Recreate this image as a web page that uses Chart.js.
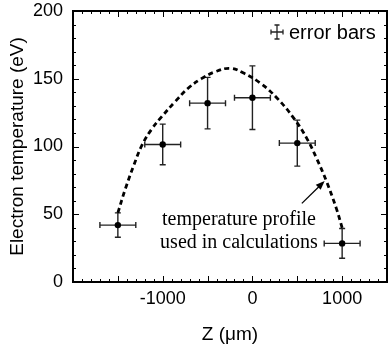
<!DOCTYPE html>
<html>
<head>
<meta charset="utf-8">
<script src="https://cdn.jsdelivr.net/npm/chart.js@4/dist/chart.umd.min.js"></script>
<style>
  html, body { margin: 0; padding: 0; background: #fff; }
  #chart { display: block; }
</style>
</head>
<body>
<canvas id="chart" width="391" height="347"></canvas>
<script>
// measured temperatures with error bars
const zPos = [-1500, -1000, -500, 0, 500, 1000];
const tempEV = [42, 101.5, 132, 136, 102.5, 28.5];
const zErr = [200, 200, 200, 200, 200, 200];
const tErr = [9, 15, 19, 23.5, 17, 11];

// dashed profile used in calculations
const profileZ = [-1500, -1415, -1323, -1231, -1121, -1011, -863, -717, -570, -422, -250, -92, 92, 276, 460, 606, 717, 827, 937, 1000];
const profileT = [51, 69, 86, 101, 113, 122, 133, 143, 150, 155, 157.7, 154, 146.6, 135.6, 121, 106, 91, 74, 54, 40];

const xTicks = [-1000, 0, 1000];
const yTicks = [0, 50, 100, 150, 200];

const sans = "'Liberation Sans', Arial, sans-serif";
const serif = "'Liberation Serif', 'Times New Roman', serif";

function seg(ctx, x0, y0, x1, y1) {
    ctx.moveTo(x0, y0);
    ctx.lineTo(x1, y1);
}

const extras = {
    id: 'extras',
    beforeDatasetsDraw(chart) {
        const ctx = chart.ctx;
        const xs = chart.scales.x, ys = chart.scales.y;
        ctx.save();
        ctx.strokeStyle = '#222';
        ctx.lineWidth = 1.4;
        ctx.beginPath();
        zPos.forEach((z, i) => {
            const px = xs.getPixelForValue(z), py = ys.getPixelForValue(tempEV[i]);
            const x0 = xs.getPixelForValue(z - zErr[i]), x1 = xs.getPixelForValue(z + zErr[i]);
            const y0 = ys.getPixelForValue(tempEV[i] + tErr[i]), y1 = ys.getPixelForValue(tempEV[i] - tErr[i]);
            seg(ctx, x0, py, x1, py);
            seg(ctx, x0, py - 3, x0, py + 3);
            seg(ctx, x1, py - 3, x1, py + 3);
            seg(ctx, px, y0, px, y1);
            seg(ctx, px - 3, y0, px + 3, y0);
            seg(ctx, px - 3, y1, px + 3, y1);
        });
        ctx.stroke();
        ctx.restore();
    },
    afterDraw(chart) {
        const ctx = chart.ctx;
        const xs = chart.scales.x, ys = chart.scales.y;
        const a = chart.chartArea;
        ctx.save();

        // frame
        ctx.strokeStyle = '#000';
        ctx.lineWidth = 2;
        ctx.strokeRect(a.left, a.top, a.right - a.left, a.bottom - a.top);

        // inward ticks on all sides
        ctx.lineWidth = 1;
        ctx.beginPath();
        for (let v = -2000; v <= 1500; v += 100) {
            const len = v % 500 === 0 ? 6 : 3;
            const px = Math.round(xs.getPixelForValue(v)) + 0.5;
            seg(ctx, px, a.bottom, px, a.bottom - len);
            seg(ctx, px, a.top, px, a.top + len);
        }
        for (let v = 0; v <= 200; v += 10) {
            const len = v % 50 === 0 ? 6 : 3;
            const py = Math.round(ys.getPixelForValue(v)) + 0.5;
            seg(ctx, a.left, py, a.left + len, py);
            seg(ctx, a.right, py, a.right - len, py);
        }
        ctx.stroke();

        // legend: error bar glyph + text
        const lx = a.right - 110, ly = a.top + 21;
        ctx.strokeStyle = '#222';
        ctx.lineWidth = 1.3;
        ctx.beginPath();
        seg(ctx, lx - 6, ly, lx + 6, ly);
        seg(ctx, lx - 6, ly - 2.5, lx - 6, ly + 2.5);
        seg(ctx, lx + 6, ly - 2.5, lx + 6, ly + 2.5);
        seg(ctx, lx, ly - 7, lx, ly + 7);
        seg(ctx, lx - 2.5, ly - 7, lx + 2.5, ly - 7);
        seg(ctx, lx - 2.5, ly + 7, lx + 2.5, ly + 7);
        ctx.stroke();
        ctx.fillStyle = '#000';
        ctx.font = '20px ' + sans;
        ctx.textAlign = 'left';
        ctx.textBaseline = 'alphabetic';
        ctx.fillText('error bars', lx + 12, ly + 7);

        // annotation
        const tx = xs.getPixelForValue(-150), ty = ys.getPixelForValue(42);
        ctx.font = '20px ' + serif;
        ctx.textAlign = 'center';
        ctx.fillText('temperature profile', tx, ty);
        ctx.fillText('used in calculations', tx, ty + 23);

        // arrow to the curve
        const ax0 = xs.getPixelForValue(551), ay0 = ys.getPixelForValue(58);
        const ax1 = xs.getPixelForValue(805), ay1 = ys.getPixelForValue(74.5);
        const ang = Math.atan2(ay1 - ay0, ax1 - ax0);
        ctx.strokeStyle = '#000';
        ctx.lineWidth = 1.3;
        ctx.beginPath();
        seg(ctx, ax0, ay0, ax1 - 6 * Math.cos(ang), ay1 - 6 * Math.sin(ang));
        ctx.stroke();
        ctx.beginPath();
        ctx.moveTo(ax1, ay1);
        ctx.lineTo(ax1 - 9 * Math.cos(ang) + 3.5 * Math.sin(ang), ay1 - 9 * Math.sin(ang) - 3.5 * Math.cos(ang));
        ctx.lineTo(ax1 - 9 * Math.cos(ang) - 3.5 * Math.sin(ang), ay1 - 9 * Math.sin(ang) + 3.5 * Math.cos(ang));
        ctx.closePath();
        ctx.fill();

        ctx.restore();
    }
};

new Chart(document.getElementById('chart').getContext('2d'), {
    type: 'scatter',
    data: {
        datasets: [{
            label: 'profile',
            data: profileZ.map((z, i) => ({ x: z, y: profileT[i] })),
            showLine: true,
            borderColor: '#000',
            borderWidth: 2.8,
            borderDash: [5, 3.5],
            tension: 0.4,
            pointRadius: 0,
            fill: false
        }, {
            label: 'measured',
            data: zPos.map((z, i) => ({ x: z, y: tempEV[i] })),
            pointRadius: 3.2,
            pointBackgroundColor: '#000',
            pointBorderColor: '#000',
            pointBorderWidth: 0
        }]
    },
    options: {
        responsive: false,
        animation: false,
        layout: { padding: { top: 0, right: 0, left: 0, bottom: 0 } },
        plugins: {
            legend: { display: false },
            tooltip: { enabled: false }
        },
        scales: {
            x: {
                type: 'linear',
                min: -2000,
                max: 1500,
                afterFit: s => { s.height = 65; },
                afterBuildTicks: s => { s.ticks = xTicks.map(v => ({ value: v })); },
                grid: { display: false, drawTicks: false },
                border: { display: false },
                ticks: {
                    color: '#000',
                    padding: 6,
                    maxRotation: 0,
                    callback: v => String(v),
                    font: { family: sans, size: 18 }
                },
                title: {
                    display: true,
                    text: 'Z (μm)',
                    color: '#000',
                    font: { family: sans, size: 19 },
                    padding: { top: 0, bottom: 1 }
                }
            },
            y: {
                type: 'linear',
                min: 0,
                max: 200,
                afterFit: s => { s.width = 73; s.paddingTop = 11; },
                afterBuildTicks: s => { s.ticks = yTicks.map(v => ({ value: v })); },
                grid: { display: false, drawTicks: false },
                border: { display: false },
                ticks: {
                    color: '#000',
                    padding: 10,
                    callback: v => String(v),
                    font: { family: sans, size: 18 }
                },
                title: {
                    display: true,
                    text: 'Electron temperature (eV)',
                    color: '#000',
                    font: { family: sans, size: 19 },
                    padding: { top: 6, bottom: 0 }
                }
            }
        }
    },
    plugins: [extras]
});
</script>
</body>
</html>
